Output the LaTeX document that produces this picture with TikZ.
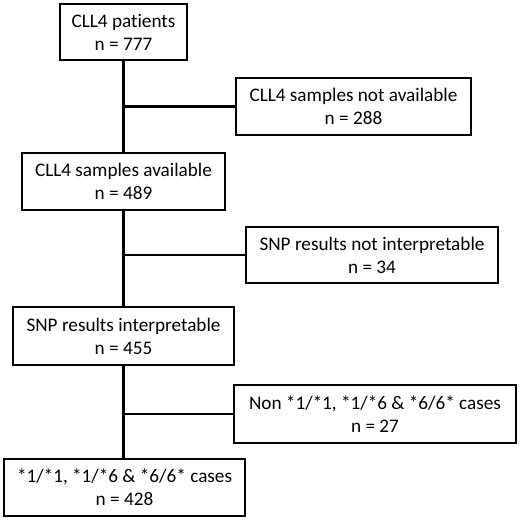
\documentclass[tikz,border=0pt]{standalone}
\usepackage{fontspec}
\setmainfont[Ligatures={NoCommon}]{Carlito}

\begin{document}
\begin{tikzpicture}[
      x=1pt, y=-1pt,
      every node/.style={draw, line width=2.4pt, align=center, inner sep=0pt,
        font=\fontsize{19.2}{23}\selectfont},
      link/.style={line width=2.4pt}
    ]
    \useasboundingbox (0,0) rectangle (520,520);
    \node[minimum width=127, minimum height=56] (patients) at (123.5,32) {CLL4 patients\\n = 777};
    \node[minimum width=235, minimum height=57] (notavail) at (353.5,106.5) {CLL4 samples not available\\n = 288};
    \node[minimum width=203, minimum height=57] (avail) at (123.5,181.5) {CLL4 samples available\\n = 489};
    \node[minimum width=252, minimum height=56] (notinterp) at (372,255) {SNP results not interpretable\\n = 34};
    \node[minimum width=221, minimum height=58] (interp) at (123.5,336) {SNP results interpretable\\n = 455};
    \node[minimum width=282, minimum height=58] (noncases) at (375,414) {Non *1/*1, *1/*6 \& *6/6* cases\\n = 27};
    \node[minimum width=241, minimum height=57] (cases) at (124.5,487.5) {*1/*1, *1/*6 \& *6/6* cases\\n = 428};

    \draw[link] (patients) -- (patients |- avail.north);
    \draw[link] (patients |- notavail.west) -- (notavail.west);
    \draw[link] (patients |- avail.south) -- (patients |- interp.north);
    \draw[link] (patients |- notinterp.west) -- (notinterp.west);
    \draw[link] (patients |- interp.south) -- (patients |- cases.north);
    \draw[link] (patients |- noncases.west) -- (noncases.west);
\end{tikzpicture}
\end{document}
